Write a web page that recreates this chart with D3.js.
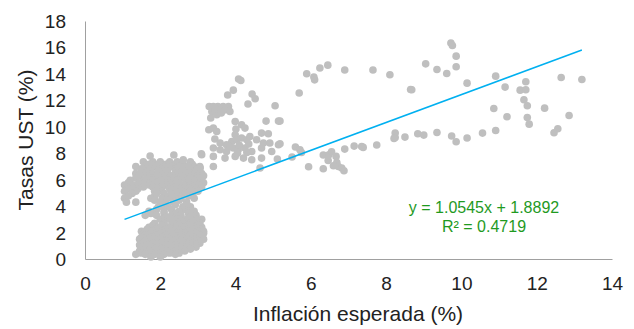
<!DOCTYPE html>
<html>
<head>
<meta charset="utf-8">
<script src="https://cdn.jsdelivr.net/npm/d3@7"></script>
<style>
  body { margin: 0; background: #fff; }
  text { font-family: "Liberation Sans", Arial, sans-serif; }
</style>
</head>
<body>
<div id="chart"></div>
<script>
// Tick labels
const xTicks = [0, 2, 4, 6, 8, 10, 12, 14];
const yTicks = [0, 2, 4, 6, 8, 10, 12, 14, 16, 18];

// Trend line (as given in the chart)
const pendiente = 1.0545;
const intercepto = 1.8892;
const ecuacion = 'y = 1.0545x + 1.8892';
const r2 = 'R² = 0.4719';

// Points: [inflación esperada, tasa UST]
const puntosBajos = [
  [1.73, 7.79], [2.36, 7.86], [3.09, 7.96],
  [1.55, 7.35], [1.8, 7.35], [2.0, 7.35], [2.25, 7.35], [2.45, 7.35], [2.6, 7.35], [2.8, 7.35],
  [1.7, 7.17], [1.95, 7.17], [2.15, 7.17], [2.4, 7.17], [2.6, 7.17], [2.85, 7.17],
  [1.35, 7.0], [1.6, 7.0], [1.85, 7.0], [2.1, 7.0], [2.3, 7.0], [2.5, 7.0], [2.7, 7.0], [2.9, 7.0], [3.05, 7.0],
  [1.5, 6.82], [1.75, 6.82], [2.0, 6.82], [2.2, 6.82], [2.4, 6.82], [2.6, 6.82], [2.8, 6.82], [3.0, 6.82],
  [1.5, 6.65], [1.7, 6.65], [1.95, 6.65], [2.15, 6.65], [2.4, 6.65], [2.6, 6.65], [2.75, 6.65], [2.95, 6.65],
  [1.35, 6.47], [1.6, 6.47], [1.8, 6.47], [2.0, 6.47], [2.2, 6.47], [2.45, 6.47], [2.7, 6.47], [2.9, 6.47], [3.1, 6.47],
  [1.45, 6.3], [1.65, 6.3], [1.9, 6.3], [2.05, 6.3], [2.3, 6.3], [2.55, 6.3], [2.85, 6.3], [3.0, 6.3], [3.15, 6.3],
  [1.35, 6.12], [1.7, 6.12], [1.9, 6.12], [2.1, 6.12], [2.35, 6.12], [2.6, 6.12], [2.8, 6.12], [3.0, 6.12],
  [1.2, 5.95], [1.55, 5.95], [1.8, 5.95], [2.0, 5.95], [2.2, 5.95], [2.45, 5.95], [2.7, 5.95], [2.9, 5.95], [3.1, 5.95],
  [1.15, 5.77], [1.45, 5.77], [1.6, 5.77], [1.8, 5.77], [2.05, 5.77], [2.25, 5.77], [2.5, 5.77], [2.7, 5.77], [2.9, 5.77], [3.15, 5.77],
  [1.05, 5.6], [1.3, 5.6], [1.7, 5.6], [1.9, 5.6], [2.15, 5.6], [2.35, 5.6], [2.6, 5.6], [2.8, 5.6], [3.0, 5.6],
  [1.25, 5.45], [1.55, 5.45], [1.8, 5.45], [2.05, 5.45], [2.4, 5.45], [2.65, 5.45], [2.85, 5.45], [3.1, 5.45],
  [1.15, 5.3], [1.4, 5.3], [1.95, 5.3], [2.25, 5.3], [2.5, 5.3], [2.75, 5.3], [2.95, 5.3],
  [1.05, 5.12], [1.35, 5.12], [1.85, 5.12], [2.05, 5.12], [2.3, 5.12], [2.55, 5.12], [2.8, 5.12], [3.0, 5.12],
  [1.25, 4.95], [1.9, 4.95], [2.1, 4.95], [2.4, 4.95], [2.65, 4.95], [2.85, 4.95],
  [1.15, 4.77], [1.85, 4.77], [2.2, 4.77], [2.45, 4.77], [2.75, 4.77],
  [1.05, 4.6], [1.75, 4.6], [2.05, 4.6], [2.3, 4.6], [2.55, 4.6], [2.9, 4.6],
  [1.85, 4.45], [2.15, 4.45], [2.5, 4.45],
  [1.1, 4.3], [1.35, 4.3], [2.0, 4.3], [2.35, 4.3], [2.7, 4.3],
  [2.05, 4.1], [2.4, 4.1], [2.7, 4.1],
  [1.95, 3.95], [2.2, 3.95], [2.6, 3.95], [2.8, 3.95],
  [1.9, 3.75], [2.3, 3.75], [2.6, 3.75],
  [1.7, 3.6], [2.1, 3.6], [2.5, 3.6], [2.75, 3.6], [2.9, 3.6],
  [1.75, 3.45], [2.1, 3.45], [2.4, 3.45], [2.75, 3.45],
  [1.6, 3.3], [1.9, 3.3], [2.3, 3.3], [2.55, 3.3], [2.95, 3.3],
  [2.15, 3.15], [2.4, 3.15], [2.8, 3.15],
  [2.0, 3.0], [2.25, 3.0], [2.45, 3.0], [2.7, 3.0], [2.95, 3.0], [3.1, 3.0],
  [2.1, 2.85], [2.55, 2.85], [2.85, 2.85],
  [1.85, 2.7], [2.1, 2.7], [2.35, 2.7], [2.6, 2.7], [2.8, 2.7], [3.05, 2.7],
  [1.8, 2.55], [2.05, 2.55], [2.3, 2.55], [2.5, 2.55], [2.75, 2.55], [3.0, 2.55],
  [1.7, 2.4], [1.95, 2.4], [2.2, 2.4], [2.4, 2.4], [2.65, 2.4], [2.9, 2.4], [3.1, 2.4],
  [1.65, 2.25], [1.9, 2.25], [2.15, 2.25], [2.4, 2.25], [2.6, 2.25], [2.85, 2.25], [3.05, 2.25],
  [1.5, 2.1], [1.8, 2.1], [2.05, 2.1], [2.3, 2.1], [2.5, 2.1], [2.75, 2.1], [3.0, 2.1], [3.15, 2.1],
  [1.55, 1.95], [1.75, 1.95], [2.0, 1.95], [2.25, 1.95], [2.45, 1.95], [2.65, 1.95], [2.95, 1.95], [3.15, 1.95],
  [1.6, 1.8], [1.9, 1.8], [2.15, 1.8], [2.35, 1.8], [2.55, 1.8], [2.8, 1.8], [3.05, 1.8],
  [1.5, 1.65], [1.8, 1.65], [2.05, 1.65], [2.3, 1.65], [2.55, 1.65], [2.85, 1.65], [3.1, 1.65],
  [1.45, 1.5], [1.7, 1.5], [2.0, 1.5], [2.25, 1.5], [2.45, 1.5], [2.7, 1.5], [2.95, 1.5], [3.15, 1.5],
  [1.6, 1.35], [1.9, 1.35], [2.15, 1.35], [2.35, 1.35], [2.55, 1.35], [2.8, 1.35], [3.0, 1.35],
  [1.55, 1.2], [1.8, 1.2], [2.05, 1.2], [2.3, 1.2], [2.6, 1.2], [2.85, 1.2], [3.05, 1.2],
  [1.45, 1.05], [1.65, 1.05], [1.9, 1.05], [2.15, 1.05], [2.4, 1.05], [2.7, 1.05], [2.95, 1.05],
  [1.5, 0.9], [1.75, 0.9], [1.95, 0.9], [2.2, 0.9], [2.45, 0.9], [2.7, 0.9], [2.95, 0.9],
  [1.6, 0.75], [1.85, 0.75], [2.05, 0.75], [2.3, 0.75], [2.55, 0.75], [2.8, 0.75],
  [1.45, 0.6], [1.7, 0.6], [1.9, 0.6], [2.15, 0.6], [2.4, 0.6], [2.65, 0.6],
  [1.5, 0.45], [1.75, 0.45], [2.0, 0.45], [2.25, 0.45], [2.5, 0.45],
  [1.35, 0.35], [1.6, 0.35], [1.85, 0.35], [2.1, 0.35], [2.4, 0.35],
  [1.75, 0.15], [2.0, 0.15]
];

const puntosMedios = [
  [4.08, 13.61], [4.14, 13.5], [3.94, 12.77], [3.79, 12.4], [4.44, 12.47], [4.52, 12.12],
  [4.33, 11.72], [5.05, 11.59], [3.3, 11.53], [3.41, 11.53], [3.53, 11.53], [3.67, 11.53],
  [3.81, 11.53], [3.37, 11.16], [3.54, 11.16], [3.72, 11.28], [3.85, 11.16], [3.34, 10.66],
  [3.5, 10.91], [3.45, 11.35], [3.62, 11.05], [4.81, 10.43], [5.14, 10.43], [3.99, 10.4], [4.16, 10.15], [4.25, 9.9],
  [3.29, 9.77], [3.41, 9.9], [3.5, 9.64], [3.45, 9.07], [4.01, 9.83], [3.99, 9.4],
  [4.69, 9.52], [4.87, 9.47], [5.14, 8.64], [3.59, 8.77], [3.76, 8.64], [3.9, 8.89],
  [4.03, 9.02], [4.16, 9.15], [4.3, 9.02], [4.38, 9.27], [4.56, 9.02], [4.74, 8.77],
  [4.91, 8.77], [3.41, 8.39], [3.59, 8.26], [3.76, 8.13], [3.94, 8.39], [4.07, 8.26],
  [4.25, 8.39], [4.43, 8.13], [4.69, 8.39], [4.96, 8.13], [3.1, 7.88], [3.41, 7.76],
  [3.72, 7.63], [3.99, 7.76], [4.21, 7.63], [4.43, 7.51], [4.69, 7.63], [5.11, 7.56],
  [2.61, 7.51], [3.06, 6.88], [3.41, 7.0], [4.65, 6.88],
  [3.85, 8.5], [4.1, 8.6], [4.35, 8.7], [4.05, 8.0], [4.3, 8.05]
];

const puntosAltos = [
  [6.45, 14.66], [6.24, 14.44], [5.89, 14.01], [6.08, 13.76], [6.1, 13.55], [5.69, 12.55],
  [6.9, 14.29], [7.65, 14.29], [8.1, 13.93], [8.65, 12.82], [5.18, 10.43], [5.18, 8.71],
  [5.59, 8.47], [5.71, 8.26], [5.75, 8.06], [5.5, 7.71], [6.33, 7.86], [6.48, 7.88],
  [6.55, 8.11], [6.46, 7.45], [6.67, 7.76], [6.69, 7.3], [6.6, 7.05], [6.73, 7.0],
  [6.82, 6.88], [6.88, 6.67], [5.94, 6.98], [6.33, 6.83], [6.9, 8.31], [7.15, 8.54],
  [7.35, 8.51], [7.39, 8.44], [7.75, 8.62], [8.24, 9.52], [8.24, 9.19], [8.21, 9.12],
  [8.5, 9.22],
  [9.72, 16.33], [9.76, 16.15], [9.86, 15.34], [9.05, 14.76], [9.35, 14.33], [9.61, 14.03],
  [9.86, 14.54], [8.68, 12.8], [10.15, 13.3], [10.91, 13.83], [11.16, 13.0], [11.71, 13.4],
  [11.56, 12.77], [11.71, 12.8], [11.66, 12.04], [11.75, 11.59], [12.65, 13.73], [13.2, 13.58],
  [10.86, 11.38], [12.21, 11.41], [11.21, 10.76], [11.75, 10.7], [11.8, 10.2], [12.86, 10.85],
  [12.56, 9.85], [12.46, 9.55], [8.84, 9.47], [9.0, 9.37], [9.35, 9.57], [9.74, 9.3],
  [9.86, 8.87], [10.15, 9.15], [10.56, 9.52], [10.91, 9.72]
];

const puntos = puntosBajos.concat(puntosMedios, puntosAltos);

const width = 634, height = 329;
const margin = { top: 21, right: 22, bottom: 70, left: 85 };
const plotW = width - margin.left - margin.right;
const plotH = height - margin.top - margin.bottom;

const svg = d3
  .select('#chart')
  .append('svg')
  .attr('width', width)
  .attr('height', height);

const g = svg.append('g').attr('transform', `translate(${margin.left}, ${margin.top})`);

const x = d3.scaleLinear().domain([0, 14]).range([0, plotW]);
const y = d3.scaleLinear().domain([0, 18]).range([plotH, 0]);

// axes
const xAxis = g
  .append('g')
  .attr('transform', `translate(0, ${plotH})`)
  .call(d3.axisBottom(x).tickValues(xTicks).tickSize(0).tickPadding(18));
xAxis.select('.domain').attr('stroke', '#a0a0a0');
xAxis.selectAll('text').style('font-size', '19px').attr('fill', '#222');

const yAxis = g
  .append('g')
  .call(d3.axisLeft(y).tickValues(yTicks).tickSize(0).tickPadding(19));
yAxis.select('.domain').attr('stroke', '#a0a0a0');
yAxis.selectAll('text').style('font-size', '19px').attr('fill', '#222').attr('dy', '0.34em');

// points
g.selectAll('.punto')
  .data(puntos)
  .enter()
  .append('circle')
  .attr('class', 'punto')
  .attr('cx', (d) => x(d[0]))
  .attr('cy', (d) => y(d[1]))
  .attr('r', 3.8)
  .attr('fill', '#bfbfbf');

// trend line
const [xMin, xMax] = d3.extent(puntos, (d) => d[0]);
g.append('line')
  .attr('x1', x(xMin))
  .attr('y1', y(pendiente * xMin + intercepto))
  .attr('x2', x(xMax))
  .attr('y2', y(pendiente * xMax + intercepto))
  .attr('stroke', '#00b0f0')
  .attr('stroke-width', 1.5);

// equation
g.append('text')
  .attr('x', x(10.6))
  .attr('y', 192)
  .attr('text-anchor', 'middle')
  .style('font-size', '16px')
  .attr('fill', '#1f9a1f')
  .text(ecuacion);
g.append('text')
  .attr('x', x(10.6))
  .attr('y', 211)
  .attr('text-anchor', 'middle')
  .style('font-size', '16px')
  .attr('fill', '#1f9a1f')
  .text(r2);

// axis titles
svg.append('text')
  .attr('x', 358)
  .attr('y', 321)
  .attr('text-anchor', 'middle')
  .style('font-size', '21px')
  .attr('fill', '#222')
  .text('Inflación esperada (%)');

svg.append('text')
  .attr('transform', 'rotate(-90)')
  .attr('x', -140)
  .attr('y', 33)
  .attr('text-anchor', 'middle')
  .style('font-size', '21px')
  .attr('fill', '#222')
  .text('Tasas UST (%)');
</script>
</body>
</html>
